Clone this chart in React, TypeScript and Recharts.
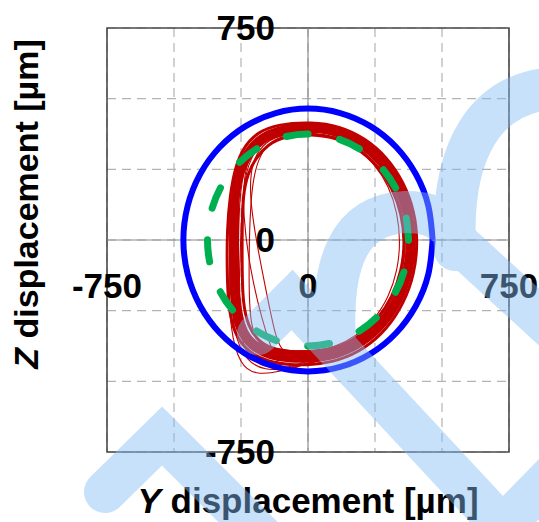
import React from 'react';
import {
  LineChart,
  Line,
  XAxis,
  YAxis,
  CartesianGrid,
  ReferenceLine,
  ReferenceArea,
  Label,
} from 'recharts';

// axis ticks (µm)
const GRID_TICKS = [-750, -500, -250, 0, 250, 500, 750];
const LABEL_TICKS = [-750, 0, 750];

// [Y displacement, Z displacement] in µm
const ORBIT_MAIN = [
  [15, 400], [112, 386], [201, 345], [279, 280], [338, 196], [375, 98], [388, -7],
  [375, -113], [338, -212], [279, -297], [201, -362], [112, -403], [15, -417],
  [-67, -417], [-142, -407], [-209, -375], [-254, -318], [-272, -230], [-276, -106],
  [-276, 35], [-276, 159], [-257, 245], [-224, 310], [-175, 360], [-100, 390],
];

const ORBIT_OUTER = [
  [15, 417], [117, 403], [213, 360], [295, 293], [357, 205], [397, 103], [410, -7],
  [397, -120], [357, -225], [295, -315], [213, -384], [117, -427], [15, -442],
  [-67, -442], [-149, -431], [-224, -396], [-276, -332], [-298, -230], [-302, -106],
  [-302, 35], [-291, 159], [-272, 255], [-243, 325], [-190, 381], [-112, 410],
];

const ORBIT_INNER = [
  [15, 375], [105, 362], [188, 324], [260, 263], [315, 184], [350, 92], [362, -7],
  [350, -108], [315, -202], [260, -282], [188, -344], [105, -383], [15, -396],
  [-67, -396], [-134, -385], [-187, -357], [-224, -304], [-243, -223], [-246, -106],
  [-246, 35], [-243, 159], [-225, 235], [-195, 290], [-150, 338], [-86, 368],
];

const ORBIT_LOW = [
  [15, 405], [114, 392], [207, 352], [287, 286], [347, 200], [383, 100], [398, -7],
  [383, -117], [345, -218], [283, -305], [201, -372], [100, -420], [-30, -440],
  [-104, -467], [-198, -477], [-254, -442], [-291, -318], [-295, -141], [-291, 71],
  [-272, 240], [-232, 325], [-142, 385],
];

const ORBIT_LOW2 = [
  [15, 402], [113, 390], [205, 350], [285, 284], [345, 199], [380, 99], [395, -7],
  [380, -116], [342, -217], [280, -303], [198, -370], [95, -418], [-20, -438],
  [-80, -455], [-160, -462], [-230, -430], [-280, -330], [-288, -150], [-285, 60],
  [-268, 232], [-228, 322], [-140, 384],
];

const ORBIT_SLANT = [
  [15, 380], [108, 367], [195, 330], [268, 268], [325, 188], [360, 95], [372, -7],
  [360, -110], [325, -206], [268, -290], [190, -352], [82, -395], [-30, -410],
  [-90, -405], [-120, -350], [-152, -200], [-190, -20], [-220, 160], [-210, 280],
  [-160, 350], [-80, 378],
];

const ORBIT_DROP = [
  [15, 395], [112, 382], [204, 344], [282, 281], [342, 197], [378, 98], [392, -7],
  [378, -115], [340, -215], [279, -300], [198, -366], [90, -410], [-20, -432],
  [-75, -453], [-172, -453], [-239, -396], [-261, -283], [-254, -71], [-246, 141],
  [-228, 270], [-172, 352], [-80, 390],
];

const ORBIT_TAIL = [
  [15, 400], [112, 388], [203, 348], [281, 283], [340, 198], [376, 99], [390, -7],
  [376, -116], [338, -216], [276, -302], [190, -368], [70, -420], [-30, -442],
  [-86, -470], [-123, -424], [-172, -283], [-216, -106], [-243, 88], [-240, 240],
  [-205, 330], [-123, 388],
];

const ORBIT_RIGHT = [
  [15, 378], [100, 365], [180, 328], [250, 268], [302, 190], [334, 96], [345, -7],
  [334, -108], [302, -200], [250, -280], [180, -340], [100, -380], [15, -395],
  [-142, -389], [-224, -347], [-254, -248], [-261, -71], [-257, 141], [-238, 270],
  [-184, 345], [-93, 375],
];

const ORBIT_LEFT = [
  [15, 378], [105, 366], [190, 328], [263, 266], [320, 186], [355, 93], [367, -7],
  [355, -110], [320, -205], [263, -286], [190, -348], [105, -386], [15, -400],
  [-75, -400], [-142, -390], [-190, -362], [-213, -300], [-220, -200], [-220, -50],
  [-216, 100], [-205, 220], [-180, 300], [-140, 350], [-80, 372],
];

// clearance circles, sampled every 15°
const BLUE_CIRCLE = [
  [465, 0], [449.1, 120.3], [402.7, 232.5], [328.8, 328.8], [232.5, 402.7], [120.3, 449.1],
  [0, 465], [-120.3, 449.1], [-232.5, 402.7], [-328.8, 328.8], [-402.7, 232.5], [-449.1, 120.3],
  [-465, 0], [-449.1, -120.3], [-402.7, -232.5], [-328.8, -328.8], [-232.5, -402.7], [-120.3, -449.1],
  [0, -465], [120.3, -449.1], [232.5, -402.7], [328.8, -328.8], [402.7, -232.5], [449.1, -120.3],
];

const GREEN_CIRCLE = [
  [375, 0], [362.2, 97.1], [324.8, 187.5], [265.2, 265.2], [187.5, 324.8], [97.1, 362.2],
  [0, 375], [-97.1, 362.2], [-187.5, 324.8], [-265.2, 265.2], [-324.8, 187.5], [-362.2, 97.1],
  [-375, 0], [-362.2, -97.1], [-324.8, -187.5], [-265.2, -265.2], [-187.5, -324.8], [-97.1, -362.2],
  [0, -375], [97.1, -362.2], [187.5, -324.8], [265.2, -265.2], [324.8, -187.5], [362.2, -97.1],
];

const toPoints = (rows: number[][]) => rows.map(([yd, zd]) => ({ yd, zd }));
const loop = (rows: number[][]) => toPoints([...rows, rows[0]]);

const FONT = '"Liberation Sans", Arial, Helvetica, sans-serif';
const RED = '#c00000';

const XTick = ({ x, y, payload }: any) => {
  if (!LABEL_TICKS.includes(payload.value)) return <g />;
  return (
    <text x={x} y={y - 154} textAnchor="middle" fontFamily={FONT} fontWeight="bold" fontSize={35} fill="#000">
      {payload.value}
    </text>
  );
};

const YTick = ({ x, y, payload }: any) => {
  if (!LABEL_TICKS.includes(payload.value)) return <g />;
  return (
    <text x={x + 168} y={y + 12} textAnchor="end" fontFamily={FONT} fontWeight="bold" fontSize={35} fill="#000">
      {payload.value}
    </text>
  );
};

const XTitle = ({ viewBox }: any) => (
  <text
    x={viewBox.x + viewBox.width / 2}
    y={viewBox.y + 61}
    textAnchor="middle"
    fontFamily={FONT}
    fontWeight="bold"
    fontSize={35}
    fill="#000"
  >
    <tspan fontStyle="italic">Y</tspan> displacement [µm]
  </text>
);

const YTitle = ({ viewBox }: any) => {
  const cx = viewBox.x - 9;
  const cy = viewBox.y + viewBox.height / 2 - 36;
  return (
    <text
      x={cx}
      y={cy}
      transform={`rotate(-90 ${cx} ${cy})`}
      textAnchor="middle"
      fontFamily={FONT}
      fontWeight="bold"
      fontSize={34}
      fill="#000"
    >
      <tspan fontStyle="italic">Z</tspan> displacement [µm]
    </text>
  );
};

const Watermark = () => (
  <svg
    width={539}
    height={522}
    style={{ position: 'absolute', left: 0, top: 0, pointerEvents: 'none' }}
  >
    <g opacity={0.45} fill="none" stroke="rgb(133,189,244)" strokeWidth={42} strokeLinecap="round">
      <path d="M105 492 L162 436 L262 536" strokeLinejoin="miter" />
      <path d="M258 334 L292 300 L520 545" strokeLinejoin="miter" />
      <path d="M335 345 C330 260 350 215 405 212 C440 211 455 230 458 245" />
      <path d="M455 250 C450 150 485 90 560 88" />
      <path d="M455 240 L575 350" />
      <path d="M470 560 L540 488 L610 560" strokeLinejoin="miter" />
    </g>
  </svg>
);

const orbitLine = (rows: number[][], width: number, key: string) => (
  <Line
    key={key}
    data={toPoints(rows)}
    dataKey="zd"
    type="basisClosed"
    stroke={RED}
    strokeWidth={width}
    dot={false}
    activeDot={false}
    isAnimationActive={false}
  />
);

export default function App() {
  const thin = [ORBIT_LOW, ORBIT_LOW2, ORBIT_SLANT, ORBIT_DROP, ORBIT_TAIL, ORBIT_RIGHT, ORBIT_LEFT];
  return (
    <div style={{ position: 'absolute', left: 0, top: 0, width: 539, height: 522, background: '#fff' }}>
      <LineChart width={539} height={522} margin={{ top: 28, right: 30, bottom: 40, left: 47 }}>
        <CartesianGrid stroke="#b3b3b3" strokeDasharray="9 6" strokeWidth={1.2} />
        <XAxis
          type="number"
          dataKey="yd"
          domain={[-750, 750]}
          ticks={GRID_TICKS}
          interval={0}
          allowDataOverflow
          axisLine={false}
          tickLine={false}
          tickSize={0}
          tickMargin={0}
          height={30}
          tick={<XTick />}
        >
          <Label content={<XTitle />} />
        </XAxis>
        <YAxis
          type="number"
          dataKey="zd"
          domain={[-750, 750]}
          ticks={GRID_TICKS}
          interval={0}
          allowDataOverflow
          axisLine={false}
          tickLine={false}
          tickSize={0}
          tickMargin={0}
          width={60}
          tick={<YTick />}
        >
          <Label content={<YTitle />} />
        </YAxis>
        <ReferenceLine x={0} stroke="#8c8c8c" strokeWidth={1.2} />
        <ReferenceLine y={0} stroke="#8c8c8c" strokeWidth={1.2} />
        <ReferenceArea x1={-750} x2={750} y1={-750} y2={750} fill="none" stroke="#4a4a4a" strokeWidth={1.6} />

        {orbitLine(ORBIT_OUTER, 3, 'outer')}
        {orbitLine(ORBIT_MAIN, 10, 'main')}
        {orbitLine(ORBIT_INNER, 3, 'inner')}
        {thin.map((rows, i) => orbitLine(rows, 1.1, `thin-${i}`))}

        <Line data={loop(BLUE_CIRCLE)} dataKey="zd" type="natural" stroke="#0000ff" strokeWidth={6} dot={false} activeDot={false} isAnimationActive={false} />
        <Line
          data={loop(GREEN_CIRCLE)}
          dataKey="zd"
          type="natural"
          stroke="#00b050"
          strokeWidth={7}
          strokeDasharray="22 32"
          strokeLinecap="round"
          dot={false}
          activeDot={false}
          isAnimationActive={false}
        />
      </LineChart>
      <Watermark />
    </div>
  );
}
